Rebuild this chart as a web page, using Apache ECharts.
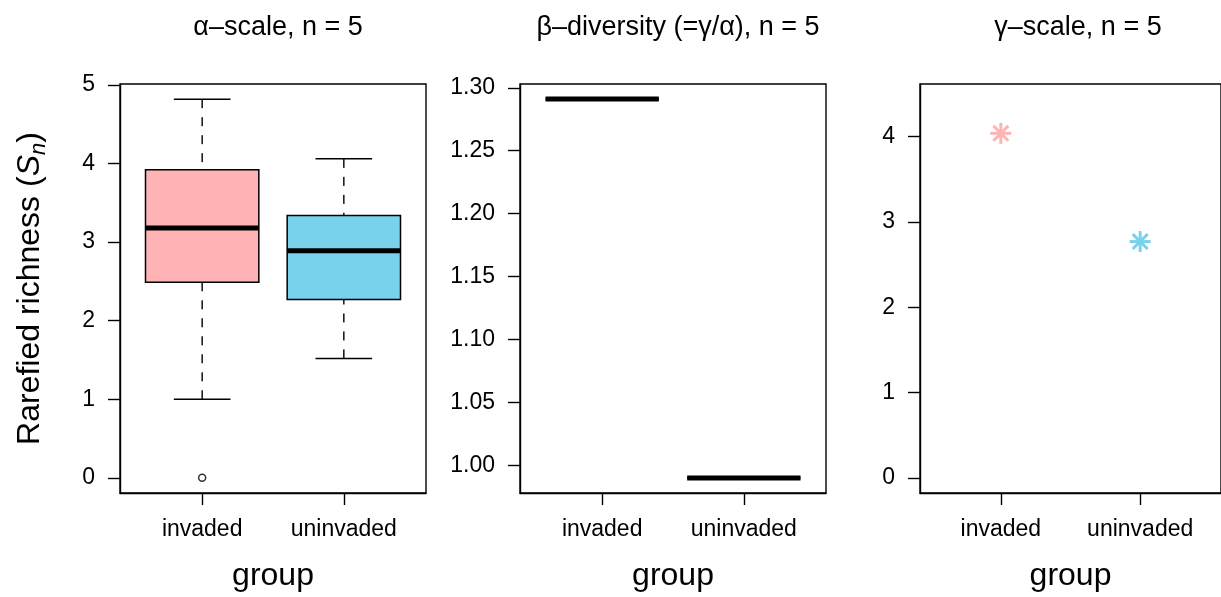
<!DOCTYPE html>
<html>
<head>
<meta charset="utf-8">
<script src="https://cdn.jsdelivr.net/npm/echarts@6/dist/echarts.min.js"></script>
<style>
html,body{margin:0;padding:0;background:#fff;}
#chart{width:1221px;height:597px;}
</style>
</head>
<body>
<div id="chart"></div>
<script>
// ---- data ----
const categories = ['invaded', 'uninvaded'];
const panelTitles = ['\u03b1\u2013scale, n = 5', '\u03b2\u2013diversity (=\u03b3/\u03b1), n = 5', '\u03b3\u2013scale, n = 5'];
// alpha-scale boxplot statistics
const alphaMin = [1.00, 1.52];
const alphaQ1 = [2.49, 2.27];
const alphaMedian = [3.18, 2.89];
const alphaQ3 = [3.92, 3.34];
const alphaMax = [4.82, 4.06];
const alphaOutlierGroup = ['invaded'];
const alphaOutlierValue = [0];
// beta-diversity (all five values identical per group)
const betaValues = [1.291, 0.990];
// gamma-scale
const gammaValues = [4.04, 2.77];
// tick labels
const alphaTicks = [0, 1, 2, 3, 4, 5];
const betaTicks = [1.00, 1.05, 1.10, 1.15, 1.20, 1.25, 1.30];
const gammaTicks = [0, 1, 2, 3, 4];

const groupColors = ['#FFB3B5', '#78D2EB'];
const FONT = 'Liberation Sans, Arial, Helvetica, sans-serif';

const chart = echarts.init(document.getElementById('chart'), null, {renderer: 'canvas'});

const gridLefts = [120, 520, 920];
const grids = gridLefts.map(l => ({
  left: l, top: 84, width: 306, height: 412,
  show: true, borderColor: '#000', borderWidth: 1.4, backgroundColor: 'transparent', containLabel: false
}));

const xAxes = [0, 1, 2].map(i => ({
  type: 'value', gridIndex: i, min: 0.42, max: 2.58,
  splitLine: {show: false},
  axisLine: {show: true, onZero: false, lineStyle: {color: '#000', width: 1.4}},
  axisTick: {show: true, inside: false, length: 12, lineStyle: {color: '#000', width: 1.4}, customValues: [1, 2]},
  axisLabel: {show: true, customValues: [1, 2], margin: 25, color: '#000', fontSize: 23, fontFamily: FONT,
    formatter: v => categories[Math.round(v) - 1]},
  name: 'group', nameLocation: 'middle', nameGap: 67,
  nameTextStyle: {color: '#000', fontSize: 32, fontFamily: FONT}
}));

function yAxis(i, min, max, ticks, fmt, extra) {
  return Object.assign({
    type: 'value', gridIndex: i, min: min, max: max,
    splitLine: {show: false},
    axisLine: {show: true, onZero: false, lineStyle: {color: '#000', width: 1.4}},
    axisTick: {show: true, inside: false, length: 12, lineStyle: {color: '#000', width: 1.4}, customValues: ticks},
    axisLabel: {show: true, customValues: ticks, margin: 25, color: '#000', fontSize: 23, fontFamily: FONT, formatter: fmt}
  }, extra || {});
}

const yAxes = [
  yAxis(0, -0.193, 5.013, alphaTicks, v => String(Math.round(v)), {
    name: '{a|Rarefied richness (}{i|S}{s|n}{a|)}',
    nameLocation: 'middle', nameRotate: 90, nameGap: 70,
    nameTextStyle: {
      color: '#000', fontFamily: FONT, fontSize: 32,
      rich: {
        a: {fontSize: 32, fontFamily: FONT, color: '#000', lineHeight: 40, verticalAlign: 'middle'},
        i: {fontSize: 32, fontFamily: FONT, color: '#000', fontStyle: 'italic', lineHeight: 40, verticalAlign: 'middle'},
        s: {fontSize: 22, fontFamily: FONT, color: '#000', fontStyle: 'italic', lineHeight: 25, verticalAlign: 'bottom'}
      }
    }
  }),
  yAxis(1, 0.978, 1.303, betaTicks, v => v.toFixed(2)),
  yAxis(2, -0.178, 4.618, gammaTicks, v => String(Math.round(v)))
];

function renderBox(params, api) {
  const x = api.value(0);
  const mn = api.value(1), q1 = api.value(2), md = api.value(3), q3 = api.value(4), mx = api.value(5);
  const color = groupColors[params.dataIndex];
  const half = 0.4, capHalf = 0.2;
  const c = (xx, v) => api.coord([xx, v]);
  const pMin = c(x, mn), pQ1 = c(x, q1), pQ3 = c(x, q3), pMax = c(x, mx);
  const boxTL = c(x - half, q3), boxBR = c(x + half, q1);
  const medL = c(x - half, md), medR = c(x + half, md);
  const dashStyle = {stroke: '#000', lineWidth: 1.4, lineDash: [9, 9]};
  const solid = {stroke: '#000', lineWidth: 1.5};
  return {
    type: 'group',
    children: [
      {type: 'line', shape: {x1: pMin[0], y1: pMin[1], x2: pQ1[0], y2: pQ1[1]}, style: dashStyle},
      {type: 'line', shape: {x1: pMax[0], y1: pMax[1], x2: pQ3[0], y2: pQ3[1]}, style: dashStyle},
      {type: 'line', shape: {x1: c(x - capHalf, mn)[0], y1: pMin[1], x2: c(x + capHalf, mn)[0], y2: pMin[1]}, style: solid},
      {type: 'line', shape: {x1: c(x - capHalf, mx)[0], y1: pMax[1], x2: c(x + capHalf, mx)[0], y2: pMax[1]}, style: solid},
      {type: 'rect', shape: {x: boxTL[0], y: boxTL[1], width: boxBR[0] - boxTL[0], height: boxBR[1] - boxTL[1]},
        style: {fill: color, stroke: '#000', lineWidth: 1.5}},
      {type: 'line', shape: {x1: medL[0], y1: medL[1], x2: medR[0], y2: medR[1]},
        style: {stroke: '#000', lineWidth: 5, lineCap: 'butt'}}
    ]
  };
}

function renderStar(params, api) {
  const p = api.coord([api.value(0), api.value(1)]);
  const color = groupColors[params.dataIndex];
  const r = 10.5, d = r / Math.SQRT2;
  const st = {stroke: color, lineWidth: 3, lineCap: 'butt'};
  const seg = (dx, dy) => ({type: 'line', shape: {x1: p[0] - dx, y1: p[1] - dy, x2: p[0] + dx, y2: p[1] + dy}, style: st});
  return {type: 'group', children: [seg(r, 0), seg(0, r), seg(d, d), seg(d, -d)]};
}

const alphaData = categories.map((c, i) => [i + 1, alphaMin[i], alphaQ1[i], alphaMedian[i], alphaQ3[i], alphaMax[i]]);
const betaData = categories.map((c, i) => [i + 1, betaValues[i], betaValues[i], betaValues[i], betaValues[i], betaValues[i]]);
const gammaData = categories.map((c, i) => [i + 1, gammaValues[i]]);
const outlierData = alphaOutlierGroup.map((g, i) => [categories.indexOf(g) + 1, alphaOutlierValue[i]]);

const option = {
  backgroundColor: '#fff',
  animation: false,
  title: panelTitles.map((t, i) => ({
    text: t, left: gridLefts[i] + 153, top: 9, textAlign: 'center',
    textStyle: {color: '#000', fontSize: 27, fontWeight: 'normal', fontFamily: FONT}
  })),
  grid: grids,
  xAxis: xAxes,
  yAxis: yAxes,
  series: [
    {type: 'custom', xAxisIndex: 0, yAxisIndex: 0, renderItem: renderBox, data: alphaData, clip: false},
    {type: 'scatter', xAxisIndex: 0, yAxisIndex: 0, data: outlierData, symbol: 'circle', symbolSize: 7,
      itemStyle: {color: '#fff', borderColor: '#000', borderWidth: 1.5}},
    {type: 'custom', xAxisIndex: 1, yAxisIndex: 1, renderItem: renderBox, data: betaData, clip: false},
    {type: 'custom', xAxisIndex: 2, yAxisIndex: 2, renderItem: renderStar, data: gammaData, clip: false}
  ]
};
chart.setOption(option);
</script>
</body>
</html>
